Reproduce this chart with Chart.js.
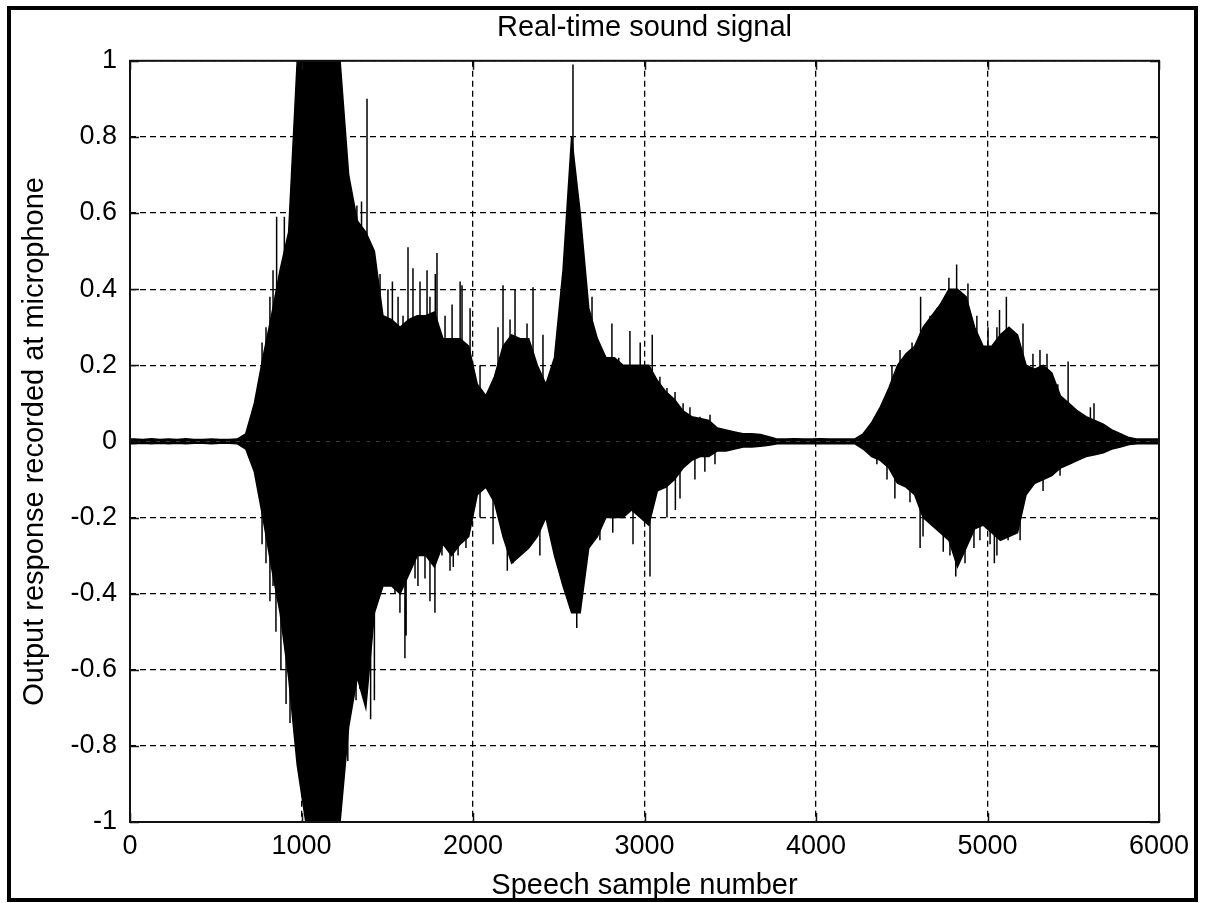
<!DOCTYPE html>
<html>
<head>
<meta charset="utf-8">
<title>Real-time sound signal</title>
<script src="https://cdn.jsdelivr.net/npm/chart.js@4.4.1/dist/chart.umd.min.js"></script>
<style>
  html, body { margin: 0; padding: 0; background: #fff; overflow: hidden; }
  #wrap { width: 1205px; height: 903px; }
</style>
</head>
<body>
<div id="wrap"><canvas id="chart" width="1205" height="903"></canvas></div>
<script>
// Body of the recorded signal: max / min per block of 50 samples
const BLOCK = 50;
const upperEnvelope = [
    0.006, 0.005, 0.007, 0.005, 0.006, 0.005, 0.007, 0.005, 0.005, 0.006, 0.005, 0.005, 0.006,
    0.02, 0.1, 0.22, 0.33, 0.45, 0.55, 1, 1, 1, 1, 1, 1,
    0.7, 0.58, 0.55, 0.5, 0.33, 0.32, 0.3, 0.32, 0.33, 0.33, 0.34, 0.27, 0.27, 0.27, 0.25,
    0.15, 0.12, 0.17, 0.25, 0.28, 0.27, 0.27, 0.2, 0.15, 0.22,
    0.45, 0.8, 0.6, 0.35, 0.27, 0.22, 0.22, 0.2, 0.2, 0.2, 0.2, 0.16, 0.13, 0.11, 0.08,
    0.065, 0.06, 0.055, 0.035, 0.03, 0.025, 0.02, 0.02, 0.018, 0.012,
    0.006, 0.006, 0.007, 0.006, 0.006, 0.007, 0.006, 0.006, 0.006, 0.006,
    0.02, 0.05, 0.09, 0.14, 0.2, 0.23, 0.25, 0.3, 0.33, 0.36, 0.4, 0.4, 0.38, 0.3, 0.25,
    0.25, 0.28, 0.3, 0.28, 0.2, 0.19, 0.2, 0.18, 0.12, 0.1, 0.08, 0.065, 0.055, 0.045,
    0.03, 0.02, 0.01, 0.006, 0.006, 0.006
];
const lowerEnvelope = [
    -0.006, -0.005, -0.006, -0.005, -0.006, -0.005, -0.006, -0.005, -0.005, -0.006, -0.005, -0.005, -0.006,
    -0.02, -0.08, -0.2, -0.33, -0.45, -0.62, -0.85, -1, -1, -1, -1, -1,
    -0.75, -0.62, -0.7, -0.45, -0.38, -0.38, -0.4, -0.35, -0.3, -0.3, -0.33, -0.27, -0.3, -0.27, -0.25,
    -0.14, -0.12, -0.16, -0.25, -0.32, -0.3, -0.28, -0.25, -0.2, -0.3,
    -0.38, -0.45, -0.45, -0.28, -0.25, -0.2, -0.2, -0.2, -0.18, -0.2, -0.22, -0.13, -0.12, -0.1, -0.07,
    -0.05, -0.04, -0.04, -0.025, -0.025, -0.02, -0.015, -0.015, -0.013, -0.01,
    -0.006, -0.006, -0.006, -0.006, -0.006, -0.006, -0.006, -0.006, -0.006, -0.006,
    -0.02, -0.04, -0.05, -0.07, -0.11, -0.12, -0.14, -0.2, -0.22, -0.24, -0.26, -0.33, -0.28, -0.23, -0.22,
    -0.24, -0.26, -0.25, -0.24, -0.14, -0.11, -0.1, -0.09, -0.07, -0.06, -0.05, -0.04, -0.035, -0.03,
    -0.02, -0.015, -0.008, -0.006, -0.006, -0.006
];

// Single peaks that stick out of the body: sample number and value
const peakSamplesUp = [
    770, 793, 816, 834, 855, 900, 920,
    1295, 1323, 1350, 1382, 1458, 1504, 1530, 1563, 1592, 1621, 1650, 1691, 1732, 1749, 1780, 1790,
    1837, 1878, 1925, 1936, 1983, 2041, 2146, 2175, 2216, 2245, 2315, 2350, 2408, 2583, 2694, 2750,
    2810, 2850, 2915, 2975, 3045, 3090, 3131, 3178, 3225, 3265, 3324, 3382,
    4443, 4490, 4560, 4610, 4665, 4705, 4723, 4775, 4820, 4886, 4938, 5003, 5055, 5070, 5110, 5207,
    5265, 5306, 5347, 5410, 5470, 5600, 5621
];
const peakValuesUp = [
    0.26, 0.3, 0.38, 0.45, 0.59, 0.59, 0.53,
    0.65, 0.62, 0.63, 0.9, 0.44, 0.4, 0.42, 0.38, 0.33, 0.51, 0.455, 0.42, 0.45, 0.38, 0.44, 0.495,
    0.33, 0.36, 0.42, 0.41, 0.35, 0.2, 0.3, 0.41, 0.32, 0.4, 0.31, 0.405, 0.28, 0.99, 0.38, 0.23,
    0.31, 0.22, 0.29, 0.26, 0.28, 0.17, 0.14, 0.13, 0.1, 0.09, 0.065, 0.07,
    0.2, 0.24, 0.26, 0.38, 0.33, 0.35, 0.36, 0.43, 0.465, 0.415, 0.33, 0.3, 0.3, 0.345, 0.38, 0.31,
    0.23, 0.24, 0.23, 0.15, 0.21, 0.09, 0.1
];
const peakSamplesDown = [
    770, 793, 816, 834, 851, 880, 910, 933, 950,
    1270, 1318, 1340, 1403, 1425, 1458, 1504, 1545, 1574, 1603, 1610, 1662, 1679, 1720, 1749, 1778,
    1819, 1866, 1885, 1913, 1959, 2041, 2117, 2200, 2233, 2290, 2390, 2466, 2605, 2635, 2740, 2815,
    2933, 3032, 3131, 3180, 3207, 3294, 3352, 3411,
    4355, 4414, 4460, 4548, 4607, 4624, 4682, 4742, 4781, 4815, 4869, 4921, 4956, 5015, 5040, 5055,
    5120, 5190, 5324, 5423
];
const peakValuesDown = [
    -0.27, -0.32, -0.42, -0.38, -0.5, -0.6, -0.69, -0.74, -0.7,
    -0.84, -0.68, -0.65, -0.73, -0.68, -0.4, -0.35, -0.4, -0.45, -0.57, -0.51, -0.36, -0.38, -0.36, -0.42, -0.45,
    -0.3, -0.34, -0.33, -0.3, -0.28, -0.2, -0.27, -0.34, -0.32, -0.28, -0.3, -0.26, -0.49, -0.36, -0.26, -0.24,
    -0.27, -0.355, -0.2, -0.18, -0.15, -0.1, -0.08, -0.06,
    -0.06, -0.1, -0.15, -0.16, -0.28, -0.25, -0.22, -0.29, -0.3, -0.355, -0.32, -0.28, -0.26, -0.27, -0.32, -0.3,
    -0.26, -0.26, -0.13, -0.09
];

// Axes
const xTicks = [0, 1000, 2000, 3000, 4000, 5000, 6000];
const yTicks = [-1, -0.8, -0.6, -0.4, -0.2, 0, 0.2, 0.4, 0.6, 0.8, 1];
const TITLE = 'Real-time sound signal';
const X_LABEL = 'Speech sample number';
const Y_LABEL = 'Output response recorded at microphone';

const FONT = '"Liberation Sans", Arial, sans-serif';

// {x, y} points at the centre of each block
function envelopePoints(values) {
    const pts = values.map((v, i) => ({ x: i * BLOCK + BLOCK / 2, y: v }));
    pts.unshift({ x: 0, y: values[0] });
    pts.push({ x: values.length * BLOCK, y: values[values.length - 1] });
    return pts;
}

// Vertical strokes from zero to each peak, broken by gaps
function peakPoints(samples, values) {
    const pts = [];
    samples.forEach((s, i) => {
        pts.push({ x: s, y: 0 }, { x: s, y: values[i] }, { x: s, y: null });
    });
    return pts;
}

// MATLAB style box, inward ticks and figure frame
const matlabFrame = {
    id: 'matlabFrame',
    afterLayout(chart) {
        // centre the title over the plot box, as MATLAB does
        const a = chart.chartArea;
        if (chart.titleBlock) {
            chart.titleBlock.left = a.left;
            chart.titleBlock.right = a.right;
            chart.titleBlock.width = a.right - a.left;
        }
    },
    beforeDraw(chart) {
        const ctx = chart.ctx;
        ctx.save();
        ctx.fillStyle = '#fff';
        ctx.fillRect(0, 0, chart.width, chart.height);
        ctx.restore();
    },
    afterDraw(chart) {
        const ctx = chart.ctx;
        const a = chart.chartArea;
        const xs = chart.scales.x;
        const ys = chart.scales.y;
        const len = 9;
        ctx.save();
        ctx.strokeStyle = '#111';
        ctx.lineWidth = 1.5;
        ctx.beginPath();
        xTicks.forEach(v => {
            const px = Math.round(xs.getPixelForValue(v)) + 0.5;
            ctx.moveTo(px, a.bottom); ctx.lineTo(px, a.bottom - len);
            ctx.moveTo(px, a.top); ctx.lineTo(px, a.top + len);
        });
        yTicks.forEach(v => {
            const py = Math.round(ys.getPixelForValue(v)) + 0.5;
            ctx.moveTo(a.left, py); ctx.lineTo(a.left + len, py);
            ctx.moveTo(a.right, py); ctx.lineTo(a.right - len, py);
        });
        ctx.stroke();
        ctx.lineWidth = 2;
        ctx.strokeRect(a.left, a.top, a.right - a.left, a.bottom - a.top);
        ctx.strokeStyle = '#000';
        ctx.lineWidth = 4;
        ctx.strokeRect(9, 8, 1187, 892);
        ctx.restore();
    }
};

const chartCtx = document.getElementById('chart').getContext('2d');

const lineStyle = {
    borderColor: '#000',
    backgroundColor: '#000',
    borderWidth: 1.5,
    pointRadius: 0,
    tension: 0
};

const soundChart = new Chart(chartCtx, {
    type: 'line',
    data: {
        datasets: [
            { ...lineStyle, label: 'upper', data: envelopePoints(upperEnvelope), fill: 'origin' },
            { ...lineStyle, label: 'lower', data: envelopePoints(lowerEnvelope), fill: 'origin' },
            { ...lineStyle, label: 'peaks up', data: peakPoints(peakSamplesUp, peakValuesUp), spanGaps: false, fill: false },
            { ...lineStyle, label: 'peaks down', data: peakPoints(peakSamplesDown, peakValuesDown), spanGaps: false, fill: false }
        ]
    },
    options: {
        responsive: false,
        animation: false,
        devicePixelRatio: 1,
        layout: { padding: { left: 0, right: 46, top: 0, bottom: 0 } },
        plugins: {
            legend: { display: false },
            tooltip: { enabled: false },
            title: {
                display: true,
                text: TITLE,
                color: '#000',
                font: { family: FONT, size: 29, weight: 'normal' },
                padding: { top: 11, bottom: 15 }
            }
        },
        scales: {
            x: {
                type: 'linear',
                min: 0,
                max: 6000,
                afterFit: scale => { scale.height = 81; },
                afterBuildTicks: scale => { scale.ticks = xTicks.map(v => ({ value: v })); },
                grid: { color: '#000', lineWidth: 1.3, drawTicks: false },
                border: { display: false, dash: [6, 4] },
                ticks: {
                    color: '#000',
                    padding: 8,
                    maxRotation: 0,
                    font: { family: FONT, size: 27 },
                    callback: v => String(v)
                },
                title: {
                    display: true,
                    text: X_LABEL,
                    color: '#000',
                    font: { family: FONT, size: 29 },
                    padding: { top: 2, bottom: 0 }
                }
            },
            y: {
                type: 'linear',
                min: -1,
                max: 1,
                afterFit: scale => { scale.width = 130; },
                afterBuildTicks: scale => { scale.ticks = yTicks.map(v => ({ value: v })); },
                grid: { color: '#000', lineWidth: 1.3, drawTicks: false },
                border: { display: false, dash: [6, 4] },
                ticks: {
                    color: '#000',
                    padding: 13,
                    font: { family: FONT, size: 27 },
                    callback: v => String(Math.round(v * 10) / 10)
                },
                title: {
                    display: true,
                    text: Y_LABEL,
                    color: '#000',
                    font: { family: FONT, size: 29 },
                    padding: { top: 18, bottom: 0 }
                }
            }
        }
    },
    plugins: [matlabFrame]
});
</script>
</body>
</html>
